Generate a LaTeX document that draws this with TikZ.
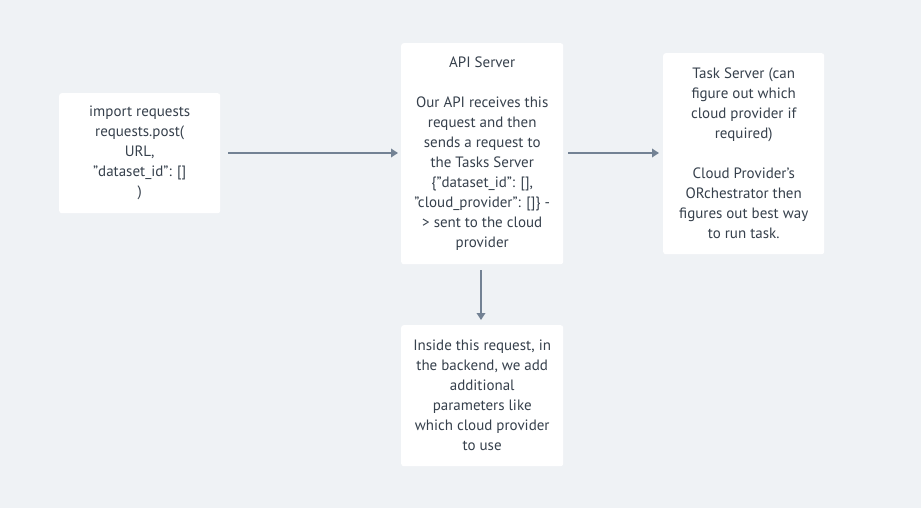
\documentclass[tikz,border=0pt]{standalone}
\usepackage{fontspec}
\setmainfont{PT Sans}
\usetikzlibrary{arrows.meta}
\definecolor{bgc}{HTML}{EFF2F5}
\definecolor{txt}{HTML}{36404C}
\definecolor{arr}{HTML}{738294}
\begin{document}
\begin{tikzpicture}[x=1pt,y=-1pt,
  card/.style={fill=white,rounded corners=2.5pt,inner sep=0pt,anchor=north west},
  lbl/.style={align=center,text=txt,font=\fontsize{15}{20}\selectfont,inner sep=0pt},
  flow/.style={draw=arr,line width=2.6pt,-{Triangle[length=7pt,width=8.5pt]}}]
\fill[bgc] (0,0) rectangle (921,508);
\useasboundingbox (0,0) rectangle (921,508);
% cards
\node[card,minimum width=161pt,minimum height=120pt] (A) at (59,93) {};
\node[card,minimum width=162pt,minimum height=221pt] (B) at (401,43) {};
\node[card,minimum width=161pt,minimum height=201pt] (C) at (663,53) {};
\node[card,minimum width=162pt,minimum height=141pt] (D) at (401,325) {};
% texts
\node[lbl] (tA) at (A.center) {import requests\\requests.post(\\URL,\\"dataset\_id": []\\)};
\node[lbl] (tB) at (B.center) {API Server\\[20pt]Our API receives this\\request and then\\sends a request to\\the Tasks Server\\\{"dataset\_id": [],\\"cloud\_provider": []\} -\\> sent to the cloud\\provider};
\node[lbl] (tC) at (C.center) {Task Server (can\\figure out which\\cloud provider if\\required)\\[20pt]Cloud Provider's\\ORchestrator then\\figures out best way\\to run task.};
\node[lbl] (tD) at (D.center) {Inside this request, in\\the backend, we add\\additional\\parameters like\\which cloud provider\\to use};
% arrows
\coordinate (a1) at (228,153);
\coordinate (a2) at (398,153);
\coordinate (b1) at (568,153);
\coordinate (b2) at (659,153);
\coordinate (c1) at (481,270);
\coordinate (c2) at (481,320);
\draw[flow] (a1) -- (a2);
\draw[flow] (b1) -- (b2);
\draw[flow] (c1) -- (c2);
\end{tikzpicture}
\end{document}
